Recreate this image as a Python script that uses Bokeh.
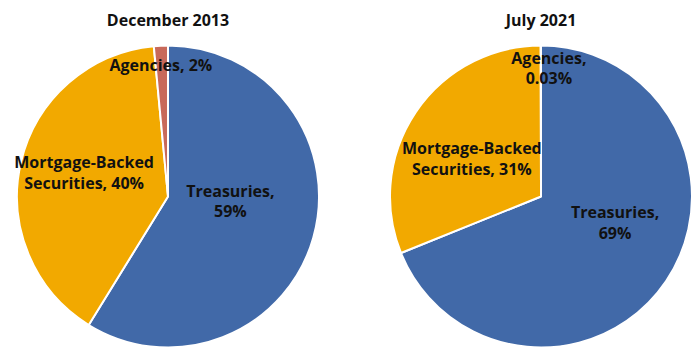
import math
from bokeh.plotting import figure
from bokeh.models import Range1d, ColumnDataSource
from bokeh.core.properties import value
from bokeh.embed import file_html
from bokeh.resources import INLINE

# ---- data ----
titles = ["December 2013", "July 2021"]
categories = ["Treasuries", "Mortgage-Backed Securities", "Agencies"]
shares_2013 = [58.8, 39.7, 1.5]
shares_2021 = [68.9, 31.07, 0.03]
labels_2013 = ["Treasuries,\n59%", "Mortgage-Backed\nSecurities, 40%", "Agencies, 2%"]
labels_2021 = ["Treasuries,\n69%", "Mortgage-Backed\nSecurities, 31%", "Agencies,\n0.03%"]

# ---- style / layout ----
W, H = 700, 355
colors = ["#4169A8", "#F2A900", "#C8695A"]
FONT = "Open Sans"
R = 151
centers = [(167.5, H - 196), (540.5, H - 196)]
# label radial fraction and pixel nudges (dx, dy in screen pixels)
label_rf = [[0.45, 0.55, 0.87], [0.52, 0.52, 0.85]]
label_nudge = [[(-3, -14), (-3, -5), (-1, 0)], [(9, -18), (-4, 6), (8, 0)]]

p = figure(width=W, height=H, x_range=Range1d(0, W), y_range=Range1d(0, H),
           output_backend="svg", toolbar_location=None,
           x_axis_location=None, y_axis_location=None, min_border=0)
p.grid.visible = False
p.outline_line_color = None
p.background_fill_color = "white"
p.border_fill_color = "white"

for k, (shares, labels) in enumerate([(shares_2013, labels_2013), (shares_2021, labels_2021)]):
    cx, cy = centers[k]
    total = sum(shares)
    cum = 0.0
    starts, ends, lx, ly = [], [], [], []
    for i, s in enumerate(shares):
        f0 = cum / total
        f1 = (cum + s) / total
        cum += s
        starts.append(math.pi / 2 - 2 * math.pi * f0)
        ends.append(math.pi / 2 - 2 * math.pi * f1)
        mid = (f0 + f1) / 2 * 2 * math.pi  # clockwise from top
        rf = label_rf[k][i]
        dx, dy = label_nudge[k][i]
        lx.append(cx + rf * R * math.sin(mid) + dx)
        ly.append(cy + rf * R * math.cos(mid) - dy)
    src = ColumnDataSource(dict(start=starts, end=ends, color=colors,
                                cat=categories, lx=lx, ly=ly, label=labels))
    p.wedge(x=cx, y=cy, radius=R, start_angle="start", end_angle="end",
            direction="clock", fill_color="color", line_color="white",
            line_width=2, source=src)
    p.text(x="lx", y="ly", text="label", source=src, text_align="center",
           text_baseline="middle", text_font=value(FONT), text_font_style="bold",
           text_font_size="16px", text_color="#111111", text_line_height=0.94)
    p.text(x=[cx], y=[cy + R + 26], text=[titles[k]], text_align="center",
           text_baseline="middle", text_font=value(FONT), text_font_style="bold",
           text_font_size="16px", text_color="#111111")

open("out.html", "w").write(file_html(p, INLINE))
